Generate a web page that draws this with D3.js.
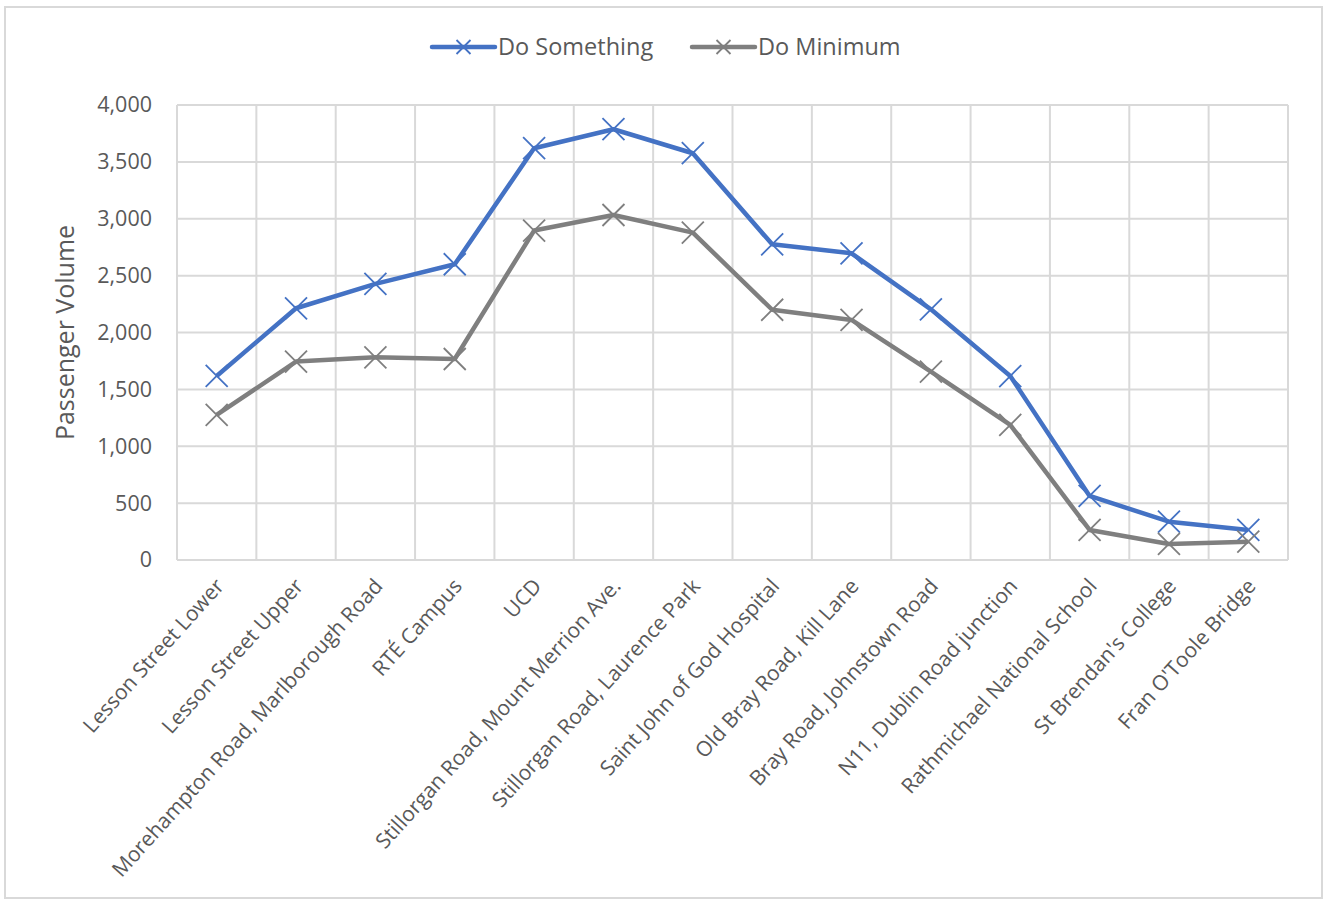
<!DOCTYPE html>
<html>
<head>
<meta charset="utf-8">
<script src="https://cdn.jsdelivr.net/npm/d3@7"></script>
<style>
  html, body { margin: 0; padding: 0; background: #fff; }
  svg { display: block; }
  text { font-family: "Open Sans", "Noto Sans", sans-serif; fill: #595959; }
</style>
</head>
<body>
<svg id="chart" width="1327" height="900"></svg>
<script>
const categories = [
  "Lesson Street Lower",
  "Lesson Street Upper",
  "Morehampton Road, Marlborough Road",
  "RTÉ Campus",
  "UCD",
  "Stillorgan Road, Mount Merrion Ave.",
  "Stillorgan Road, Laurence Park",
  "Saint John of God Hospital",
  "Old Bray Road, Kill Lane",
  "Bray Road, Johnstown Road",
  "N11, Dublin Road junction",
  "Rathmichael National School",
  "St Brendan's College",
  "Fran O'Toole Bridge"
];
const doSomething = [1618, 2213, 2427, 2600, 3620, 3787, 3576, 2775, 2696, 2204, 1617, 563, 337, 264];
const doMinimum   = [1275, 1744, 1782, 1767, 2896, 3033, 2878, 2200, 2110, 1656, 1187, 264, 141, 161];
const yTicks = [0, 500, 1000, 1500, 2000, 2500, 3000, 3500, 4000];
const seriesNames = ["Do Something", "Do Minimum"];
const seriesColors = ["#4472C4", "#7F7F7F"];
const yTitle = "Passenger Volume";

const svg = d3.select("#chart");
const plot = { left: 177, right: 1288, top: 105, bottom: 560 };

// outer chart border
svg.append("rect")
  .attr("x", 5).attr("y", 7).attr("width", 1317).attr("height", 891)
  .attr("fill", "#fff").attr("stroke", "#D9D9D9").attr("stroke-width", 2);

const x = d3.scaleBand().domain(categories).range([plot.left, plot.right]).padding(0);
const y = d3.scaleLinear().domain([0, 4000]).range([plot.bottom, plot.top]);

const grid = svg.append("g").attr("stroke", "#D9D9D9").attr("stroke-width", 2);
grid.selectAll("line.h").data(yTicks).join("line")
  .attr("x1", plot.left).attr("x2", plot.right)
  .attr("y1", d => y(d)).attr("y2", d => y(d));
const bounds = categories.map(c => x(c)).concat([x(categories[categories.length - 1]) + x.bandwidth()]);
grid.selectAll("line.v").data(bounds).join("line")
  .attr("x1", d => d).attr("x2", d => d)
  .attr("y1", plot.top).attr("y2", plot.bottom);

// y axis labels
const yAxis = svg.append("g")
  .attr("transform", `translate(${plot.left - 25},0)`)
  .call(d3.axisLeft(y).tickValues(yTicks).tickSize(0).tickPadding(0).tickFormat(d3.format(",")));
yAxis.select(".domain").remove();
yAxis.selectAll("text").style("font-size", "21.5px").style("fill", "#595959").style("font-family", '"Open Sans", sans-serif');

// x axis labels
const xAxis = svg.append("g")
  .attr("transform", `translate(0,${plot.bottom})`)
  .call(d3.axisBottom(x).tickSize(0).tickPadding(0));
xAxis.select(".domain").remove();
xAxis.selectAll("text")
  .attr("x", 0).attr("y", 0).attr("dy", "0.35em")
  .attr("text-anchor", "end")
  .attr("transform", "translate(3,22) rotate(-48)")
  .style("font-size", "21px").style("fill", "#595959").style("font-family", '"Open Sans", sans-serif');

// y title
svg.append("text")
  .attr("transform", `translate(74,${(plot.top + plot.bottom) / 2}) rotate(-90)`)
  .attr("text-anchor", "middle")
  .style("font-size", "25px")
  .text(yTitle);

// series
const cx = c => x(c) + x.bandwidth() / 2;
const series = [doSomething, doMinimum];
const line = d3.line().x((d, i) => cx(categories[i])).y(d => y(d));
const ms = 11;
function drawX(g, px, py, color) {
  g.append("path")
    .attr("d", `M${px - ms},${py - ms}L${px + ms},${py + ms}M${px - ms},${py + ms}L${px + ms},${py - ms}`)
    .attr("stroke", color).attr("stroke-width", 1.8).attr("fill", "none");
}
series.forEach((vals, si) => {
  const g = svg.append("g");
  g.append("path").datum(vals)
    .attr("d", line)
    .attr("fill", "none")
    .attr("stroke", seriesColors[si])
    .attr("stroke-width", 4.5)
    .attr("stroke-linejoin", "round");
  vals.forEach((v, i) => drawX(g, cx(categories[i]), y(v), seriesColors[si]));
});

// legend
const legendItems = [
  { x1: 432, x2: 495, tx: 498 },
  { x1: 692, x2: 755, tx: 758 }
];
legendItems.forEach((it, i) => {
  const g = svg.append("g");
  g.append("line").attr("x1", it.x1).attr("x2", it.x2).attr("y1", 47).attr("y2", 47)
    .attr("stroke", seriesColors[i]).attr("stroke-width", 4.5).attr("stroke-linecap", "round");
  const mx = (it.x1 + it.x2) / 2, m = 7;
  g.append("path").attr("d", `M${mx - m},${47 - m}L${mx + m},${47 + m}M${mx - m},${47 + m}L${mx + m},${47 - m}`)
    .attr("stroke", seriesColors[i]).attr("stroke-width", 1.8);
  g.append("text").attr("x", it.tx).attr("y", 47).attr("dy", "0.35em")
    .style("font-size", "23.5px").text(seriesNames[i]);
});
</script>
</body>
</html>
